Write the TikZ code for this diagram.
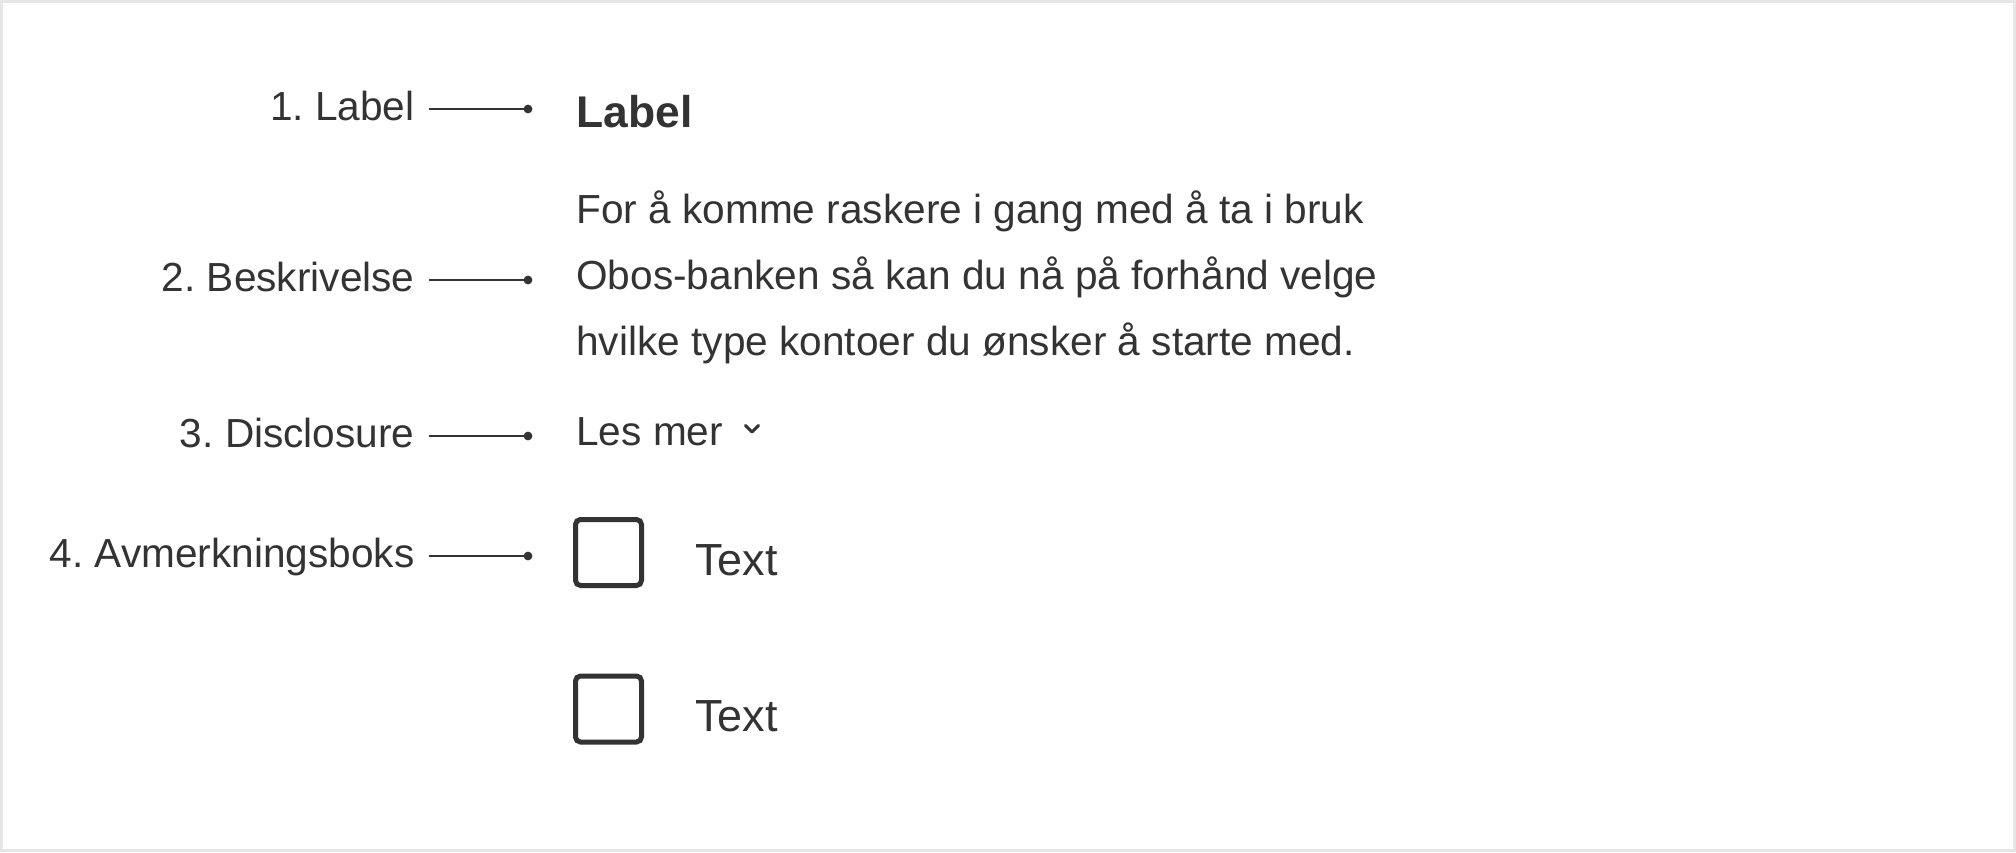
\documentclass[tikz,border=0pt]{standalone}
\usepackage{fontspec}
\setmainfont{Liberation Sans}
\frenchspacing
\definecolor{ink}{HTML}{333333}
\definecolor{framegray}{HTML}{E6E6E6}
\begin{document}
\begin{tikzpicture}[x=0.5pt,y=-0.5pt,
  lab/.style={anchor=base east, inner xsep=7pt, inner ysep=0pt, text=ink,
    font=\fontsize{20.3}{24}\selectfont},
  body/.style={anchor=base west, inner sep=0pt, text=ink,
    font=\fontsize{20.3}{24}\selectfont},
  head/.style={anchor=base west, inner sep=0pt, text=ink,
    font=\bfseries\fontsize{22.2}{26}\selectfont},
  opt/.style={anchor=base west, inner sep=0pt, text=ink,
    font=\fontsize{22.5}{26}\selectfont},
  conn/.style={draw=ink, line width=1.25pt},
  enddot/.style={fill=ink},
  cbox/.style={draw=ink, line width=2.5pt, rounded corners=2.5pt,
    minimum size=33pt, inner sep=0pt},
  chev/.style={draw=ink, line width=1.5pt, line cap=round, line join=round},
]
% frame
\fill[framegray] (0,0) rectangle (2016,852);
\fill[white] (3,3) rectangle (2013,849);

% left labels
\node[lab] (l1) at (429,120) {1. Label};
\node[lab] (l2) at (429,291) {2. Beskrivelse};
\node[lab] (l3) at (429,447) {3. Disclosure};
\node[lab] (l4) at (429,567) {4. Avmerkningsboks};

% connector end points
\coordinate (d1) at (528,109);
\coordinate (d2) at (528,280);
\coordinate (d3) at (528,436);
\coordinate (d4) at (528,556);

\foreach \i in {1,2,3,4}{
  \draw[conn] (l\i.east |- d\i) -- (d\i);
  \fill[enddot] (d\i) circle[radius=2.2pt];
}

% right side content
\node[head] (label) at (576,127) {Label};
\node[body] (p1) at (576,223) {For å komme raskere i gang med å ta i bruk};
\node[body] (p2) at (576,289) {Obos-banken så kan du nå på forhånd velge};
\node[body] (p3) at (576,355) {hvilke type kontoer du ønsker å starte med.};
\node[body] (les) at (576,445) {Les mer};
\coordinate (chv) at (752,429);
\draw[chev] (chv) ++(-6.5,-3.5) -- ++(6.5,6.5) -- ++(6.5,-6.5);

\node[cbox] (cb1) at (608.5,552.5) {};
\node[opt] (t1) at (695,575) {Text};
\node[cbox] (cb2) at (608.5,709) {};
\node[opt] (t2) at (695,731) {Text};
\end{tikzpicture}
\end{document}
